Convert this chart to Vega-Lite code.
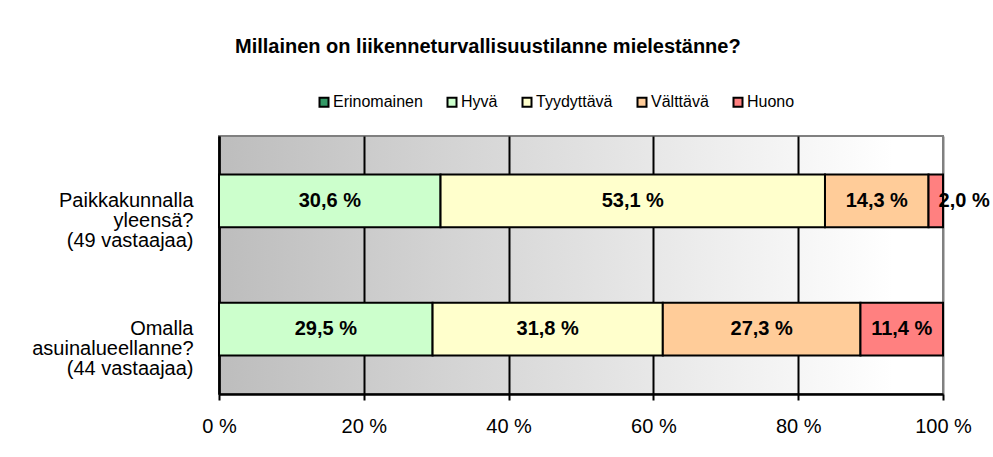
{
  "$schema": "https://vega.github.io/schema/vega-lite/v6.json",
  "width": 724,
  "height": 258,
  "padding": {"left": 31, "top": 37, "right": 0, "bottom": 0},
  "background": "white",
  "view": {
    "fill": {"gradient": "linear", "x1": 0, "y1": 0, "x2": 1, "y2": 0,
      "stops": [{"offset": 0, "color": "#bdbdbd"}, {"offset": 0.93, "color": "#ffffff"}, {"offset": 1, "color": "#ffffff"}]},
    "stroke": "#808080",
    "strokeWidth": 2
  },
  "title": {
    "text": "Millainen on liikenneturvallisuustilanne  mielestänne?",
    "anchor": "start",
    "frame": "group",
    "dx": 16,
    "offset": 21,
    "baseline": "alphabetic",
    "font": "Liberation Sans",
    "fontSize": 20,
    "fontWeight": "bold",
    "color": "black"
  },
  "data": {
    "values": [
      {"q": "Paikkakunnalla\nyleensä?\n(49 vastaajaa)", "k": "Hyvä", "v": 30.6},
      {"q": "Paikkakunnalla\nyleensä?\n(49 vastaajaa)", "k": "Tyydyttävä", "v": 53.1},
      {"q": "Paikkakunnalla\nyleensä?\n(49 vastaajaa)", "k": "Välttävä", "v": 14.3},
      {"q": "Paikkakunnalla\nyleensä?\n(49 vastaajaa)", "k": "Huono", "v": 2.0},
      {"q": "Omalla\nasuinalueellanne?\n(44 vastaajaa)", "k": "Hyvä", "v": 29.5},
      {"q": "Omalla\nasuinalueellanne?\n(44 vastaajaa)", "k": "Tyydyttävä", "v": 31.8},
      {"q": "Omalla\nasuinalueellanne?\n(44 vastaajaa)", "k": "Välttävä", "v": 27.3},
      {"q": "Omalla\nasuinalueellanne?\n(44 vastaajaa)", "k": "Huono", "v": 11.4}
    ]
  },
  "transform": [
    {"calculate": "indexof(['Erinomainen','Hyvä','Tyydyttävä','Välttävä','Huono'], datum.k)", "as": "o"},
    {"stack": "v", "groupby": ["q"], "sort": [{"field": "o", "order": "ascending"}], "as": ["x0", "x1"]},
    {"calculate": "(datum.x0 + datum.x1) / 2", "as": "xm"},
    {"calculate": "replace(format(datum.v, '.1f'), '.', ',') + ' %'", "as": "lbl"}
  ],
  "encoding": {
    "y": {
      "field": "q",
      "type": "nominal",
      "sort": null,
      "scale": {"paddingInner": 0.59, "paddingOuter": 0.3},
      "axis": {
        "title": null,
        "ticks": false,
        "grid": false,
        "domainColor": "black",
        "domainWidth": 2.5,
        "labelExpr": "split(datum.label, '\\n')",
        "labelFont": "Liberation Sans",
        "labelFontSize": 20,
        "labelColor": "black",
        "labelAlign": "right",
        "labelBaseline": "middle",
        "labelPadding": 26,
        "labelLineHeight": 20,
        "labelLimit": 0
      }
    }
  },
  "layer": [
    {
      "mark": {"type": "bar", "stroke": "black", "strokeWidth": 2, "opacity": 1},
      "encoding": {
        "x": {
          "field": "x0",
          "type": "quantitative",
          "scale": {"domain": [0, 100], "nice": false},
          "axis": {
            "title": null,
            "values": [0, 20, 40, 60, 80, 100],
            "labelExpr": "datum.value + ' %'",
            "grid": true,
            "gridColor": {"condition": {"test": "datum.value == 100", "value": "#808080"}, "value": "black"},
            "gridWidth": 2,
            "gridOpacity": 1,
            "domainColor": "black",
            "domainWidth": 2.5,
            "tickColor": "black",
            "tickWidth": 2,
            "tickSize": 6,
            "labelFont": "Liberation Sans",
            "labelFontSize": 20,
            "labelColor": "black",
            "labelPadding": 16,
            "labelFlush": false,
            "labelOverlap": false
          }
        },
        "x2": {"field": "x1"},
        "color": {
          "field": "k",
          "type": "nominal",
          "scale": {
            "domain": ["Erinomainen", "Hyvä", "Tyydyttävä", "Välttävä", "Huono"],
            "range": ["#339966", "#CCFFCC", "#FFFFCC", "#FFCC99", "#FF8080"]
          },
          "legend": {
            "title": null,
            "orient": "none",
            "legendX": 97,
            "legendY": -42,
            "direction": "horizontal",
            "symbolType": "square",
            "symbolSize": 81,
            "symbolStrokeColor": "black",
            "symbolStrokeWidth": 2,
            "symbolOpacity": 1,
            "labelFont": "Liberation Sans",
            "labelFontSize": 16,
            "labelColor": "black",
            "labelOffset": 1,
            "columnPadding": 20,
            "padding": 0
          }
        }
      }
    },
    {
      "transform": [{"filter": "datum.v >= 5"}],
      "mark": {"type": "text", "font": "Liberation Sans", "fontSize": 20, "fontWeight": "bold", "color": "black", "baseline": "middle", "align": "center"},
      "encoding": {
        "x": {"field": "xm", "type": "quantitative"},
        "text": {"field": "lbl"}
      }
    },
    {
      "transform": [{"filter": "datum.v < 5"}],
      "mark": {"type": "text", "font": "Liberation Sans", "fontSize": 20, "fontWeight": "bold", "color": "black", "baseline": "middle", "align": "left", "dx": 10},
      "encoding": {
        "x": {"field": "x0", "type": "quantitative"},
        "text": {"field": "lbl"}
      }
    }
  ]
}
